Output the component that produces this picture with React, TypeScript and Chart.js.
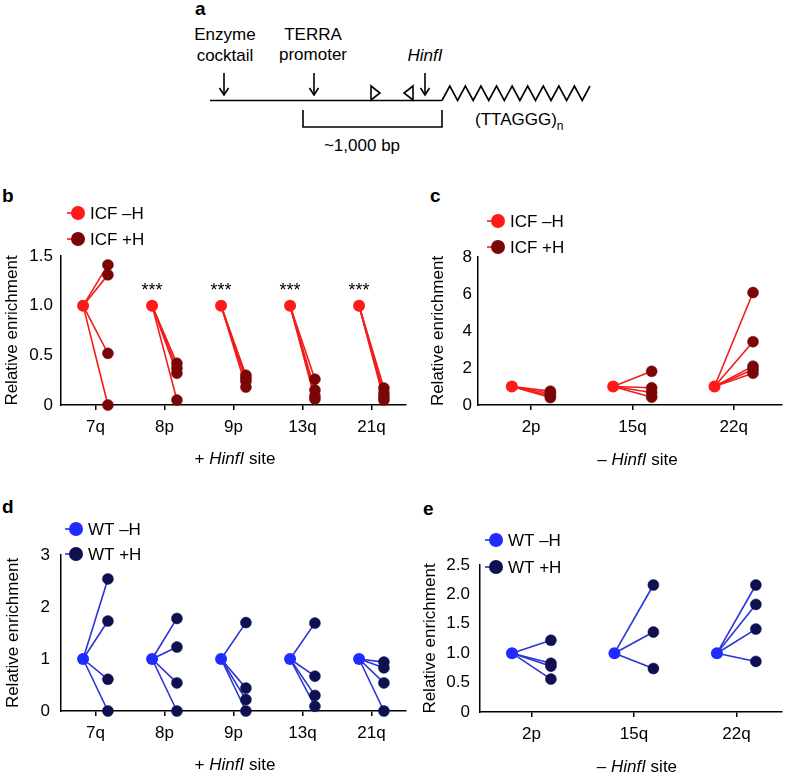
import React, { useEffect, useRef } from "react";
import { Chart, registerables } from "chart.js";
Chart.register(...registerables);

const FONT = "'Liberation Sans', Arial, Helvetica, sans-serif";
Chart.defaults.font.family = FONT;

// ---------- DATA ----------
const bCategories = ["7q", "8p", "9p", "13q", "21q"];
const bMinusH = [1, 1, 1, 1, 1];
const bPlusH = [
  [1.41, 1.31, 0.52, 0.0],
  [0.42, 0.37, 0.32, 0.05],
  [0.3, 0.27, 0.24, 0.18],
  [0.26, 0.15, 0.09, 0.06],
  [0.17, 0.12, 0.08, 0.05],
];
const bStars = ["", "***", "***", "***", "***"];
const bYTicks = [0, 0.5, 1.0, 1.5];

const cCategories = ["2p", "15q", "22q"];
const cMinusH = [1, 1, 1];
const cPlusH = [
  [0.75, 0.62, 0.5, 0.4],
  [1.82, 0.93, 0.68, 0.42],
  [6.08, 3.42, 2.1, 1.92, 1.72],
];
const cYTicks = [0, 2, 4, 6, 8];

const dCategories = ["7q", "8p", "9p", "13q", "21q"];
const dMinusH = [1, 1, 1, 1, 1];
const dPlusH = [
  [2.54, 1.73, 0.61, 0.0],
  [1.78, 1.23, 0.54, 0.0],
  [1.7, 0.44, 0.22, 0.0],
  [1.69, 0.67, 0.3, 0.09],
  [0.94, 0.83, 0.54, 0.0],
];
const dYTicks = [0, 1, 2, 3];

const eCategories = ["2p", "15q", "22q"];
const eMinusH = [1, 1, 1];
const ePlusH = [
  [1.22, 0.83, 0.78, 0.56],
  [2.16, 1.36, 0.74],
  [2.16, 1.83, 1.41, 0.86],
];
const eYTicks = [0, 0.5, 1.0, 1.5, 2.0, 2.5];

const icfLegend = ["ICF \u2013H", "ICF +H"];
const wtLegend = ["WT \u2013H", "WT +H"];
const yTitle = "Relative enrichment";

// ---------- STYLE ----------
const RED = { minus: "#ff1a1a", plus: "#7a0606", line: "#f21c1c" };
const BLUE = { minus: "#1f2bff", plus: "#0f1050", line: "#2b34d4" };

const legendPlugin = {
  id: "pairLegend",
  afterDraw(chart: any, _a: any, opts: any) {
    const ctx = chart.ctx;
    opts.items.forEach((it: any) => {
      ctx.save();
      ctx.strokeStyle = opts.line;
      ctx.lineWidth = 1.6;
      ctx.beginPath();
      ctx.moveTo(it.x - 11, it.y);
      ctx.lineTo(it.x + 6, it.y);
      ctx.stroke();
      ctx.fillStyle = it.color;
      ctx.beginPath();
      ctx.arc(it.x, it.y, 7, 0, Math.PI * 2);
      ctx.fill();
      ctx.fillStyle = "#000";
      ctx.font = `17px ${FONT}`;
      ctx.textBaseline = "middle";
      ctx.textAlign = "left";
      ctx.fillText(it.label, it.x + 12, it.y + 1);
      ctx.restore();
    });
  },
};

const xTitlePlugin = {
  id: "xTitle",
  afterDraw(chart: any, _a: any, opts: any) {
    const ctx = chart.ctx;
    const xs = chart.scales.x;
    const cx = xs.getPixelForValue(opts.center) + opts.dx;
    const y = chart.chartArea.bottom + opts.dy;
    const parts = [
      { t: opts.prefix, f: `17px ${FONT}` },
      { t: "HinfI", f: `italic 17px ${FONT}` },
      { t: " site", f: `17px ${FONT}` },
    ];
    ctx.save();
    let total = 0;
    parts.forEach((p) => {
      ctx.font = p.f;
      total += ctx.measureText(p.t).width;
    });
    let x = cx - total / 2;
    ctx.fillStyle = "#000";
    ctx.textBaseline = "middle";
    ctx.textAlign = "left";
    parts.forEach((p) => {
      ctx.font = p.f;
      ctx.fillText(p.t, x, y);
      x += ctx.measureText(p.t).width;
    });
    ctx.restore();
  },
};

const starsPlugin = {
  id: "stars",
  afterDraw(chart: any, _a: any, opts: any) {
    if (!opts.labels) return;
    const ctx = chart.ctx;
    ctx.save();
    ctx.fillStyle = "#000";
    ctx.font = `18px ${FONT}`;
    ctx.textAlign = "center";
    ctx.textBaseline = "alphabetic";
    opts.labels.forEach((s: string, i: number) => {
      if (!s) return;
      const x = chart.scales.x.getPixelForValue(i - opts.dx);
      const y = chart.scales.y.getPixelForValue(opts.y);
      ctx.fillText(s, x, y);
    });
    ctx.restore();
  },
};

type PanelProps = {
  cats: string[];
  minus: number[];
  plus: number[][];
  yTicks: number[];
  yFmt: (v: number) => string;
  colors: { minus: string; plus: string; line: string };
  legend: string[];
  stars?: string[];
  starY?: number;
  titlePrefix: string;
  box: { left: number; top: number; width: number; height: number };
  area: { l: number; t: number; r: number; b: number };
  xMin: number;
  xMax: number;
  dx: number;
  yTickPad: number;
  yTitleCenter: number;
  legendPos: { x: number; y1: number; y2: number };
  titleDx: number;
  titleDy: number;
};

function PairPanel(p: PanelProps) {
  const ref = useRef<HTMLCanvasElement>(null);
  useEffect(() => {
    const datasets: any[] = [];
    p.plus.forEach((vals, i) => {
      vals.forEach((v) => {
        datasets.push({
          data: [
            { x: i - p.dx, y: p.minus[i] },
            { x: i + p.dx, y: v },
          ],
          showLine: true,
          borderColor: p.colors.line,
          borderWidth: 1.6,
          pointRadius: 0,
          pointHoverRadius: 0,
          clip: false,
          order: 2,
        });
      });
    });
    datasets.push({
      data: p.plus.flatMap((vals, i) => vals.map((v) => ({ x: i + p.dx, y: v }))),
      showLine: false,
      pointRadius: 5.5,
      backgroundColor: p.colors.plus,
      borderColor: p.colors.plus,
      borderWidth: 0.5,
      clip: false,
      order: 1,
    });
    datasets.push({
      data: p.minus.map((m, i) => ({ x: i - p.dx, y: m })),
      showLine: false,
      pointRadius: 6,
      backgroundColor: p.colors.minus,
      borderColor: p.colors.minus,
      borderWidth: 0,
      clip: false,
      order: 0,
    });

    const ox = p.box.left;
    const oy = p.box.top;
    const lh = 17 * 1.2;
    const chart = new Chart(ref.current as HTMLCanvasElement, {
      type: "scatter",
      data: { datasets },
      plugins: [legendPlugin, xTitlePlugin, starsPlugin],
      options: {
        responsive: false,
        animation: false,
        events: [],
        layout: {
          padding: {
            left: 0,
            top: p.area.t - oy,
            right: ox + p.box.width - p.area.r,
            bottom: 0,
          },
        },
        plugins: {
          legend: { display: false },
          tooltip: { enabled: false },
          pairLegend: {
            line: p.colors.line,
            items: [
              { x: p.legendPos.x - ox, y: p.legendPos.y1 - oy, color: p.colors.minus, label: p.legend[0] },
              { x: p.legendPos.x - ox, y: p.legendPos.y2 - oy, color: p.colors.plus, label: p.legend[1] },
            ],
          },
          xTitle: { prefix: p.titlePrefix, center: (p.cats.length - 1) / 2, dx: p.titleDx, dy: p.titleDy },
          stars: { labels: p.stars, dx: p.dx, y: p.starY },
        } as any,
        scales: {
          x: {
            type: "linear",
            min: p.xMin,
            max: p.xMax,
            afterBuildTicks: (s: any) => {
              s.ticks = p.cats.map((_, i) => ({ value: i }));
            },
            afterFit: (s: any) => {
              s.height = oy + p.box.height - p.area.b;
            },
            ticks: {
              callback: (v: any) => p.cats[Math.round(v)] ?? "",
              font: { size: 17 },
              color: "#000",
              padding: 7,
              maxRotation: 0,
              autoSkip: false,
            },
            grid: {
              display: true,
              drawOnChartArea: false,
              drawTicks: true,
              tickLength: 5,
              color: "#000",
              lineWidth: 1.5,
            },
            border: { display: true, color: "#000", width: 1.5 },
          },
          y: {
            type: "linear",
            min: p.yTicks[0],
            max: p.yTicks[p.yTicks.length - 1],
            afterBuildTicks: (s: any) => {
              s.ticks = p.yTicks.map((v) => ({ value: v }));
            },
            afterFit: (s: any) => {
              s.width = p.area.l - ox;
            },
            ticks: {
              callback: (v: any) => p.yFmt(Number(v)),
              font: { size: 17 },
              color: "#000",
              padding: p.yTickPad,
            },
            grid: { display: false, drawTicks: false },
            border: { display: true, color: "#000", width: 1.5 },
            title: {
              display: true,
              text: yTitle,
              font: { size: 17 },
              color: "#000",
              padding: { top: p.yTitleCenter - ox - lh / 2, bottom: 0 },
            },
          },
        },
      } as any,
    });
    return () => chart.destroy();
  }, []);
  return (
    <canvas
      ref={ref}
      width={p.box.width}
      height={p.box.height}
      style={{ position: "absolute", left: p.box.left, top: p.box.top, width: p.box.width, height: p.box.height }}
    />
  );
}

const fmt1 = (v: number) => (v === 0 ? "0" : v.toFixed(1));
const fmt0 = (v: number) => String(Math.round(v));

function Arrow({ x, y1, y2 }: { x: number; y1: number; y2: number }) {
  return (
    <g stroke="#000" strokeWidth={1.6} fill="none">
      <line x1={x} y1={y1} x2={x} y2={y2} />
      <polyline points={`${x - 4.5},${y2 - 7} ${x},${y2} ${x + 4.5},${y2 - 7}`} />
    </g>
  );
}

function Schematic() {
  const zig: string[] = [];
  const zx0 = 442;
  const zx1 = 590;
  const nHalf = 19;
  for (let k = 0; k <= nHalf; k++) {
    const x = zx0 + ((zx1 - zx0) * k) / nHalf;
    const y = k % 2 === 0 ? 100.5 : 86;
    zig.push(`${x},${y}`);
  }
  return (
    <svg width={788} height={773} style={{ position: "absolute", left: 0, top: 0 }} fontFamily={FONT}>
      <g fontWeight="bold" fontSize={19} fill="#000">
        <text x={195} y={15}>a</text>
        <text x={2} y={202}>b</text>
        <text x={430} y={202}>c</text>
        <text x={2} y={513}>d</text>
        <text x={423} y={515}>e</text>
      </g>
      <g fontSize={17} fill="#000" textAnchor="middle">
        <text x={225} y={40}>Enzyme</text>
        <text x={225} y={61}>cocktail</text>
        <text x={313} y={40}>TERRA</text>
        <text x={313} y={60}>promoter</text>
        <text x={425} y={61} fontStyle="italic">HinfI</text>
        <text x={362} y={151}>~1,000 bp</text>
      </g>
      <text x={475} y={125} fontSize={17} fill="#000">
        (TTAGGG)
        <tspan fontSize={12} dy={5}>n</tspan>
      </text>
      <Arrow x={224} y1={73} y2={95} />
      <Arrow x={314} y1={73} y2={95} />
      <Arrow x={425} y1={73} y2={95} />
      <g stroke="#000" strokeWidth={1.6} fill="none">
        <line x1={210} y1={100.5} x2={442} y2={100.5} />
        <polyline points={zig.join(" ")} />
        <polygon points="371,86 371,100 380,93" fill="#fff" />
        <polygon points="413,86 413,100 404,93" fill="#fff" />
        <polyline points="303,110 303,127 442,127 442,110" />
      </g>
    </svg>
  );
}

export default function App() {
  return (
    <div style={{ position: "absolute", left: 0, top: 0, width: 788, height: 773, background: "#fff", overflow: "hidden" }}>
      <Schematic />
      <PairPanel
        cats={bCategories}
        minus={bMinusH}
        plus={bPlusH}
        yTicks={bYTicks}
        yFmt={fmt1}
        colors={RED}
        legend={icfLegend}
        stars={bStars}
        starY={1.1}
        titlePrefix="+ "
        box={{ left: 0, top: 170, width: 412, height: 300 }}
        area={{ l: 61, t: 256, r: 406, b: 405 }}
        xMin={-0.5}
        xMax={4.5}
        dx={0.18}
        yTickPad={8}
        yTitleCenter={12}
        legendPos={{ x: 78, y1: 213, y2: 239 }}
        titleDx={1.5}
        titleDy={54}
      />
      <PairPanel
        cats={cCategories}
        minus={cMinusH}
        plus={cPlusH}
        yTicks={cYTicks}
        yFmt={fmt0}
        colors={RED}
        legend={icfLegend}
        titlePrefix={"\u2013 "}
        box={{ left: 415, top: 170, width: 373, height: 300 }}
        area={{ l: 478, t: 257, r: 787, b: 405 }}
        xMin={-0.524}
        xMax={2.476}
        dx={0.19}
        yTickPad={6}
        yTitleCenter={438.5}
        legendPos={{ x: 498, y1: 221, y2: 247 }}
        titleDx={5}
        titleDy={55}
      />
      <PairPanel
        cats={dCategories}
        minus={dMinusH}
        plus={dPlusH}
        yTicks={dYTicks}
        yFmt={fmt0}
        colors={BLUE}
        legend={wtLegend}
        titlePrefix="+ "
        box={{ left: 0, top: 480, width: 412, height: 293 }}
        area={{ l: 61, t: 555, r: 406, b: 711 }}
        xMin={-0.5}
        xMax={4.5}
        dx={0.18}
        yTickPad={11}
        yTitleCenter={13}
        legendPos={{ x: 76, y1: 529, y2: 554 }}
        titleDx={1.5}
        titleDy={54}
      />
      <PairPanel
        cats={eCategories}
        minus={eMinusH}
        plus={ePlusH}
        yTicks={eYTicks}
        yFmt={fmt1}
        colors={BLUE}
        legend={wtLegend}
        titlePrefix={"\u2013 "}
        box={{ left: 415, top: 480, width: 373, height: 293 }}
        area={{ l: 480, t: 565, r: 788, b: 712 }}
        xMin={-0.502}
        xMax={2.445}
        dx={0.19}
        yTickPad={10}
        yTitleCenter={430}
        legendPos={{ x: 496, y1: 540, y2: 567 }}
        titleDx={3}
        titleDy={55}
      />
    </div>
  );
}
